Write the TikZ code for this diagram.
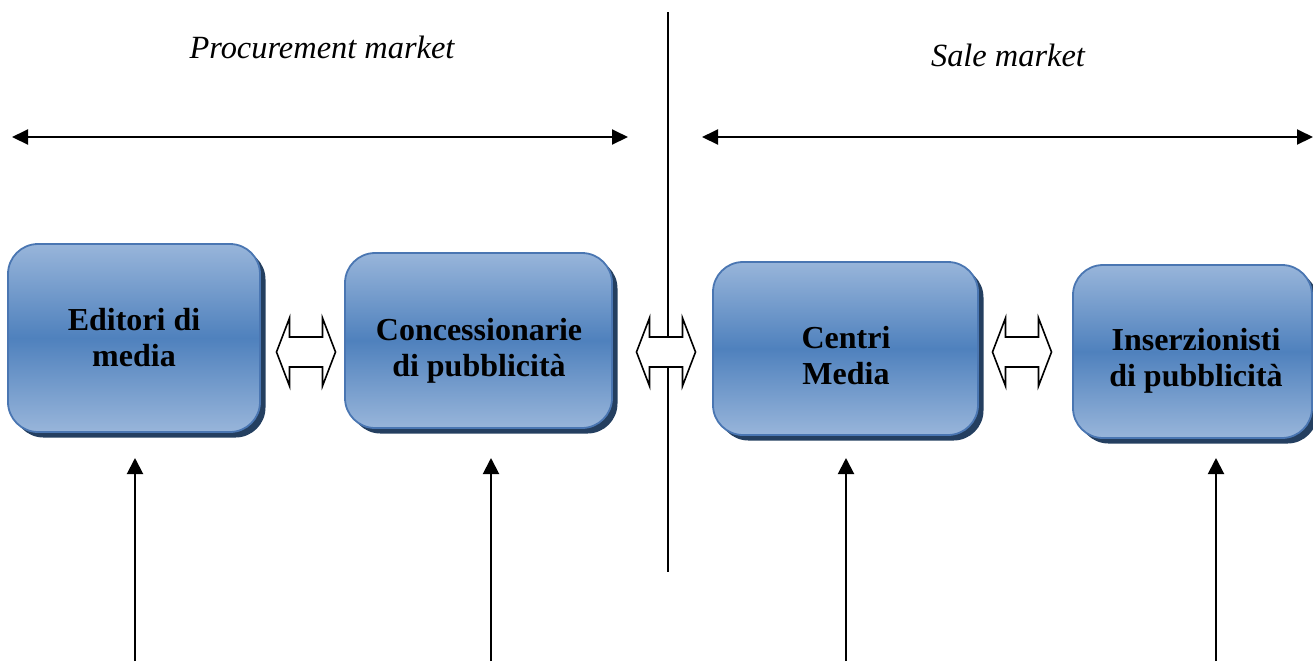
\documentclass[tikz,border=0pt]{standalone}
\usepackage{fontspec}
\setmainfont{Liberation Serif}
\usetikzlibrary{arrows.meta,shadows}
\definecolor{boxlight}{RGB}{152,181,218}
\definecolor{boxdark}{RGB}{79,129,189}
\definecolor{boxline}{RGB}{74,118,178}
\definecolor{boxshadow}{RGB}{36,63,96}
\tikzstyle{mediabox} = [rectangle, draw=boxline, line width=0.9pt, inner sep=0pt, rounded corners=15pt, top color=boxlight, bottom color=boxlight, middle color=boxdark, drop shadow={shadow xshift=2.75pt, shadow yshift=-2.75pt, fill=boxshadow, opacity=1}]
\tikzstyle{boxtext} = [align=center, inner sep=0pt, font=\bfseries\fontsize{16}{18}\selectfont]
\tikzstyle{market} = [inner sep=0pt, font=\itshape\fontsize{16.2}{18}\selectfont]
\tikzstyle{bothways} = [{Triangle[length=8pt,width=7.5pt]}-{Triangle[length=8pt,width=7.5pt]}, line width=1pt]
\tikzstyle{upward} = [-{Triangle[length=8pt,width=8pt]}, line width=1pt]
\tikzset{twoway/.pic={
    \draw[line width=0.8pt, fill=white] (-29.5,0) -- (-16.5,-34) -- (-16.5,-15) -- (16.5,-15) -- (16.5,-34)
        -- (29.5,0) -- (16.5,34) -- (16.5,15) -- (-16.5,15) -- (-16.5,34) -- cycle;}}

\begin{document}
\begin{tikzpicture}[x=0.5pt,y=-0.5pt]
    \useasboundingbox (0,0) rectangle (1313,661);
    \node[market] (procurement) at (322,47) {Procurement market};
    \node[market] (sale) at (1008,55) {Sale market};
    \coordinate (pleft) at (12,137);
    \coordinate (pright) at (628,137);
    \coordinate (sleft) at (702,137);
    \coordinate (sright) at (1313,137);
    \draw[bothways] (pleft) -- (pright);
    \draw[bothways] (sleft) -- (sright);
    \coordinate (divtop) at (668,12);
    \coordinate (divbottom) at (668,572);
    \draw[line width=1pt] (divtop) -- (divbottom);

    \node[mediabox, minimum width=126pt, minimum height=94pt] (editori) at (134,338) {};
    \node[mediabox, minimum width=133.5pt, minimum height=87.5pt] (concessionarie) at (478.5,340.5) {};
    \node[mediabox, minimum width=132.5pt, minimum height=86.5pt] (centri) at (845.5,348.5) {};
    \node[mediabox, minimum width=119.5pt, minimum height=86.5pt] (inserzionisti) at (1192.5,351.5) {};
    \node[boxtext] (editori-text) at (134,338) {Editori di\\media};
    \node[boxtext] (concessionarie-text) at (479,351) {Concessionarie\\di pubblicità};
    \node[boxtext] (centri-text) at (846,356) {Centri\\Media};
    \node[boxtext] (inserzionisti-text) at (1196,361) {Inserzionisti\\di pubblicità};

    \pic (editori-concessionarie) at (306,352) {twoway};
    \pic (concessionarie-centri) at (666,352) {twoway};
    \pic (centri-inserzionisti) at (1022,352) {twoway};

    \foreach \name/\x in {editori/135,concessionarie/491,centri/846,inserzionisti/1216}{
        \coordinate (\name-foot) at (\x,661);
        \coordinate (\name-tip) at (\x,458);
        \draw[upward] (\name-foot) -- (\name-tip);
    }
\end{tikzpicture}
\end{document}
